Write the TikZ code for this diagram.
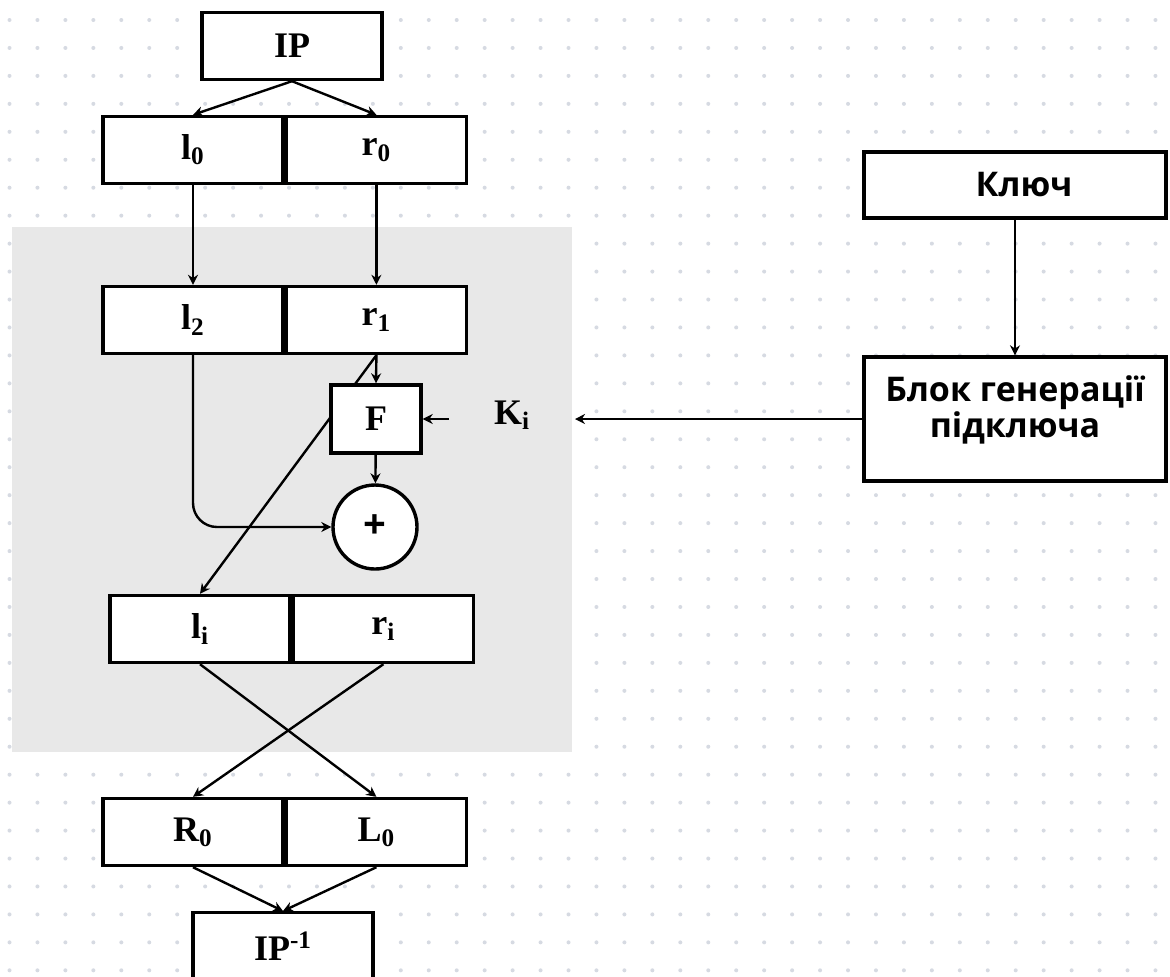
\documentclass[tikz,border=0pt]{standalone}
\usepackage{fontspec}
\setmainfont{Liberation Serif}
\newfontfamily\uafont{Open Sans}
\usetikzlibrary{positioning,arrows.meta}
\definecolor{dotc}{RGB}{214,218,226}
\definecolor{roundc}{RGB}{232,232,232}

\tikzset{
  blk/.style={draw, line width=1.7pt, fill=white, inner sep=0pt,
    minimum width=90pt, minimum height=33.5pt,
    font=\fontsize{18}{20}\selectfont\bfseries},
  wide/.style={blk, minimum width=151pt,
    font=\uafont\fontsize{17}{18}\selectfont\bfseries},
  arr/.style={->, line width=1.2pt, >={Stealth[length=5pt,width=5pt]}},
}

\begin{document}
\begin{tikzpicture}[x=0.5pt,y=-0.5pt]
\clip (0,0) rectangle (1170,976);
\fill[white] (0,0) rectangle (1170,976);
% dotted paper
\foreach \i in {0,...,41}
  \foreach \j in {0,...,34}
    \fill[dotc] (9.5+27.95*\i,20+27.95*\j) circle(1pt);
% one round
\fill[roundc] (12,227) rectangle (572,752);

\node[blk] (ip) at (292,46) {IP};
\node[blk] (l0) at (193,150) {l\textsubscript{0}};
\node[blk,right=0pt of l0] (r0) {r\textsubscript{0}};
\node[blk] (l2) at (193,320) {l\textsubscript{2}};
\node[blk,right=0pt of l2] (r1) {r\textsubscript{1}};
\node[blk] (li) at (200,629) {l\textsubscript{i}};
\node[blk,right=0pt of li] (ri) {r\textsubscript{i}};
\node[blk] (R0) at (193,832) {R\textsubscript{0}};
\node[blk,right=0pt of R0] (L0) {L\textsubscript{0}};
\node[blk,anchor=north] (ipinv) at (283,911) {IP\textsuperscript{-1}};

\draw[arr] (r1.south) -- (li.north);
\node[blk,minimum width=45pt,minimum height=34pt] (F) at (376,419) {F};
\node[circle,draw,line width=1.7pt,fill=white,minimum size=42pt,inner sep=0pt,
  font=\uafont\fontsize{20}{20}\selectfont\bfseries] (plus) at (375,527) {+};
\node[font=\fontsize{18}{20}\selectfont\bfseries] (ki) at (512,415) {K\textsubscript{i}};
\coordinate (kf) at (449,419);
\coordinate (kin) at (575,419);

\node[wide,minimum height=33pt] (key) at (1015,185) {\hspace{9pt}Ключ};
\node[wide,minimum height=62pt,align=center] (gen) at (1015,419) {Блок генерації\\підключа\\[-6pt]};

\draw[arr] (ip.south) -- (l0.north);
\draw[arr] (ip.south) -- (r0.north);
\draw[arr] (l0) -- (l2);
\draw[arr] (r0) -- (r1);
\draw[arr] (r1.south) -- (F.north);
\draw[arr] (F) -- (plus);
\draw[arr,rounded corners=12pt] (l2.south) |- (plus.west);
\draw[arr] (kf) -- (F.east);
\draw[arr] (key) -- (gen);
\draw[arr] (gen.west) -- (kin);
\draw[arr] (li.south) -- (L0.north);
\draw[arr] (ri.south) -- (R0.north);
\draw[arr] (R0.south) -- (ipinv.north);
\draw[arr] (L0.south) -- (ipinv.north);
\end{tikzpicture}
\end{document}
